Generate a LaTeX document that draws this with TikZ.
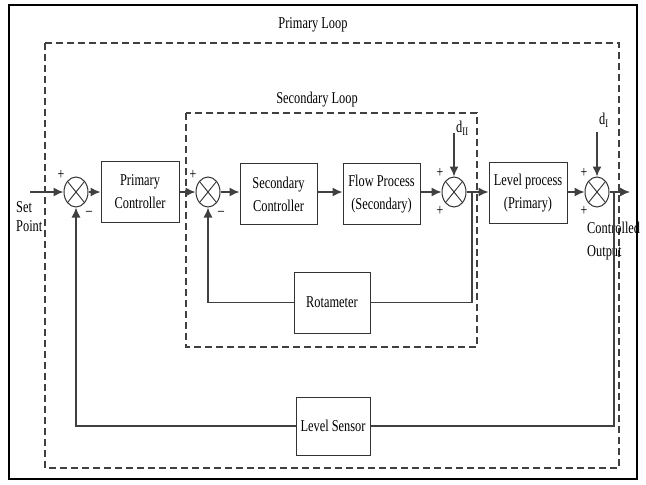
\documentclass[tikz,border=0pt]{standalone}
\usepackage{fontspec}
\setmainfont{Liberation Serif}[FakeStretch=0.75]
\usetikzlibrary{arrows.meta,shapes.geometric}
\begin{document}
\begin{tikzpicture}[x=1pt,y=-1pt,
  blk/.style={draw=black!80, line width=1pt, minimum width=78pt, minimum height=61pt, align=center, font=\fontsize{16.5}{23}\selectfont, inner sep=1pt},
  sumc/.style={ellipse, draw=black!80, line width=1pt, minimum width=24pt, minimum height=30pt, inner sep=0pt},
  conn/.style={line width=1.4pt, draw=black!75},
  arr/.style={conn, -{Latex[length=10pt,width=9pt]}},
  loopbox/.style={draw=black!75, line width=1.3pt, dash pattern=on 7pt off 4pt},
  lbl/.style={font=\fontsize{16.5}{23}\selectfont, inner sep=0pt},
  sgn/.style={font=\fontsize{16}{16}\selectfont, inner sep=0pt}
]
\useasboundingbox (0,0) rectangle (646,485);
\draw[line width=2.6pt] (9,5) rectangle (637,479);

% loops
\draw[loopbox] (45,43) rectangle (619,468);
\node[lbl] (plabel) at (313,25) {Primary Loop};
\draw[loopbox] (186,113) rectangle (477,347);
\node[lbl] (slabel) at (317,100) {Secondary Loop};

% blocks
\node[blk] (pc) at (140,192) {Primary\\Controller};
\node[blk, minimum width=77pt] (sc) at (278.5,194) {Secondary\\Controller};
\node[blk, minimum width=77pt] (fp) at (381.5,194) {Flow Process\\(Secondary)};
\node[blk] (lp) at (528,193) {Level process\\(Primary)};
\node[blk, minimum width=76pt] (rot) at (332,302.5) {Rotameter};
\node[blk, minimum width=74pt, minimum height=58pt] (ls) at (333,426) {Level Sensor};

% summing junctions
\foreach \n/\x in {s1/76, s2/208, s3/454, s4/597}{
  \node[sumc] (\n) at (\x,192) {};
  \draw[line width=0.9pt, black!80] (\n.north west) -- (\n.south east) (\n.north east) -- (\n.south west);
}

% signs
\node[sgn] at (61,175) {+};
\node[sgn] at (89,213) {--};
\node[sgn] at (193,175) {+};
\node[sgn] at (221,213) {--};
\node[sgn] at (440,173) {+};
\node[sgn] at (440,211) {+};
\node[sgn] at (584,173) {+};
\node[sgn] at (584,211) {+};

% inputs / outputs
\coordinate (sp) at (30,192);
\coordinate (out) at (630,192);
\coordinate (d2) at (454,133);
\coordinate (d1) at (597,132);
\coordinate (j1) at (472,192);
\coordinate (j2) at (614,192);

\node[lbl, align=left, anchor=north west, font=\fontsize{16.5}{19}\selectfont] (sptext) at (16,201) {Set\\Point};
\node[lbl, align=left, anchor=north west, font=\fontsize{16.5}{23}\selectfont] (cotext) at (587,222) {Controlled\\Output};
\node[lbl, anchor=west] (d2text) at (456,128) {d\textsubscript{II}};
\node[lbl, anchor=west] (d1text) at (599,120) {d\textsubscript{I}};

% forward path
\draw[arr] (sp) -- (s1);
\draw[arr] (s1) -- (pc);
\draw[arr] (pc) -- (s2);
\draw[arr] (s2) -- (sc.west |- s2);
\draw[arr] (sc.east |- s2) -- (fp.west |- s2);
\draw[arr] (fp.east |- s3) -- (s3);
\draw[arr] (s3) -- (lp.west |- s3);
\draw[arr] (lp.east |- s4) -- (s4);
\draw[arr] (s4) -- (out);
\draw[arr] (d2) -- (s3);
\draw[arr] (d1) -- (s4);

% feedback
\draw[conn] (j1) |- (rot.east);
\draw[arr] (rot.west) -| (s2.south);
\draw[conn] (j2) |- (ls.east);
\draw[arr] (ls.west) -| (s1.south);
\end{tikzpicture}
\end{document}
